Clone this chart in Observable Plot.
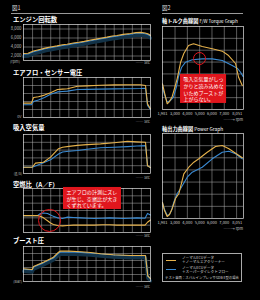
<!DOCTYPE html>
<html><head><meta charset="utf-8">
<script src="https://cdn.jsdelivr.net/npm/d3@7"></script>
<script src="https://cdn.jsdelivr.net/npm/@observablehq/plot@0.6"></script>
<style>
html,body{margin:0;padding:0;background:#000;}
#root{position:relative;width:260px;height:300px;background:#000;overflow:hidden;font-family:"Noto Sans CJK JP","Noto Sans",sans-serif;color:#fff;}
.t{position:absolute;white-space:nowrap;line-height:1;}
.b{font-weight:700;}
</style></head><body><div id="root"></div>
<script>
// ---- Data ----
// Engine rpm (time in arbitrary units)
const rpmT      = [0, 5, 11, 18, 25, 30, 37, 43, 48, 55, 61, 67, 74, 80, 85, 92, 98, 103, 110, 118, 124, 129, 134, 137, 140];
const rpmBlue   = [2400, 2450, 2950, 3300, 3650, 3850, 4100, 4350, 4450, 4750, 4900, 5100, 5400, 5600, 5800, 6050, 6300, 6400, 6650, 6850, 7050, 7100, 6950, 6800, 6450];
const rpmOrange = [2550, 2600, 3100, 3450, 3800, 4000, 4250, 4500, 4600, 4900, 5050, 5250, 5550, 5750, 5950, 6200, 6450, 6550, 6800, 7000, 7200, 7250, 7100, 6950, 6600];
const rpmTicks  = [2000, 4000, 6000, 8000];
// Air flow sensor voltage
const volT      = [0, 8.8, 11, 16.5, 23.2, 29.8, 37.5, 43, 48.5, 59.5, 70, 84.9, 100, 114.6, 129, 134.5, 136.7, 140];
const volOrange = [1.8, 1.8, 2.5, 2.6, 2.8, 3.1, 3.5, 3.55, 3.6, 3.9, 3.95, 4.04, 4.08, 4.1, 4.1, 4.0, 1.7, 1.1];
const volBlue   = [1.6, 1.6, 2.0, 2.2, 2.5, 2.9, 3.2, 3.25, 3.3, 3.5, 3.52, 3.55, 3.58, 3.6, 3.62, 3.65, 1.5, 1.0];
// Intake air amount (g/s)
const airT      = [0, 9.6, 13.2, 22, 29.8, 38.6, 43, 50, 59.5, 70, 84.9, 100, 114.6, 125, 134.5, 136.7, 140];
const airOrange = [32, 32, 53, 58, 84, 127, 135, 139, 144, 148, 152, 158, 165, 162, 160, 40, 30];
const airBlue   = [32, 32, 38, 55, 70, 100, 110, 114, 118, 124, 132, 135, 138, 141, 143, 40, 30];
// Air/fuel ratio
const afT      = [0, 15.4, 18.7, 22, 26.5, 29.8, 33, 37.5, 43, 48.5, 55, 63, 70, 78, 87, 95, 103, 110, 118, 125, 134, 136.7, 140];
const afBlue   = [12.3, 12.3, 12.6, 12.65, 12.6, 12.4, 12.2, 12.0, 11.9, 12.1, 12.05, 12.0, 11.95, 11.9, 11.95, 12.0, 11.95, 11.9, 11.95, 12.0, 11.95, 12.6, 12.4];
const afOrange = [12.3, 12.3, 12.2, 12.0, 11.6, 11.3, 11.1, 10.95, 10.9, 10.95, 11.0, 11.0, 11.0, 11.0, 11.05, 11.05, 11.0, 11.0, 11.0, 11.0, 11.0, 11.4, 11.7];
// Boost pressure (bar)
const bstT      = [0, 9.6, 11, 22, 33, 38.6, 40.8, 50, 63, 74, 85, 99, 118, 134.5, 137, 140];
const bstOrange = [-0.09, -0.14, 0.07, 0.38, 0.74, 1.09, 1.18, 1.17, 1.12, 1.07, 0.98, 0.91, 0.86, 0.86, -0.6, -0.79];
const bstBlue   = [-0.12, -0.17, 0.03, 0.33, 0.68, 1.02, 1.10, 1.11, 1.08, 1.04, 0.96, 0.89, 0.84, 0.84, -0.62, -0.80];
// F/W torque vs rpm
const tqRpmO = [1981, 2144, 2363, 2550, 2770, 2957, 3176, 3444, 3713, 4095, 4501, 5209, 6022, 6835, 7347, 7916, 8160, 8461];
const tqO    = [21.7, 14.3, 4.8, 6.7, 11, 17.7, 26.1, 39.6, 47.2, 54, 55.4, 53.1, 51.2, 49.2, 45.5, 38.8, 27.2, 20.2];
const tqRpmB = [1981, 2144, 2363, 2631, 2875, 3119, 3282, 3525, 3851, 4396, 5209, 6022, 6835, 7648, 8079, 8323, 8526];
const tqB    = [18.8, 12.6, 6.2, 7.6, 10.4, 19.4, 27.8, 35.4, 39.9, 41.9, 42.7, 42.7, 41.3, 37.1, 34.6, 31.4, 27.8];
// Power vs rpm
const pwRpmO = [1981, 2144, 2363, 2550, 2770, 3038, 3306, 3713, 4119, 4526, 4932, 5615, 6290, 6835, 7371, 7916, 8461];
const pwO    = [65.9, 32.9, 8.2, 16.5, 41.2, 82.4, 101.7, 184, 211.2, 231.8, 245.8, 273, 296.5, 300.6, 287, 268.9, 250];
const pwRpmB = [1981, 2144, 2363, 2550, 2713, 2900, 3176, 3444, 3989, 4396, 5209, 6022, 6835, 7371, 7916, 8461];
const pwB    = [61.8, 37, 12.4, 16.5, 32.9, 67.1, 103, 122.3, 170, 190.6, 211.2, 245.8, 273, 277.1, 266.4, 245.8];
const rpmAxisTicks = [1981, 3000, 4000, 5000, 6000, 7000, 8051];

// ---- Styling ----
const C_OR = "#e6b24c", C_BL = "#3a8ad2", RED = "#e0161d", SHADOW = "#123247";
const GRID = "#b4b4b4";
const FONT = '"Noto Sans CJK JP","Noto Sans",sans-serif';
const root = document.getElementById("root");
const rows = (xs, ys) => xs.map((x, i) => ({x, y: ys[i]}));

function text(txt, x, y, size, opts = {}) {
  const d = document.createElement("div");
  d.className = "t" + (opts.bold ? " b" : "");
  d.textContent = txt;
  d.style.fontSize = size + "px";
  d.style.top = y + "px";
  if (opts.right != null) d.style.right = (260 - opts.right) + "px"; else d.style.left = x + "px";
  d.style.color = opts.color || "#fff";
  root.appendChild(d);
  return d;
}
function hline(x1, x2, y, color = "#9a9a9a") {
  const d = document.createElement("div");
  Object.assign(d.style, {position: "absolute", left: x1 + "px", top: y + "px", width: (x2 - x1) + "px", height: "0.6px", background: color});
  root.appendChild(d);
}

function panel(p) {
  const mL = p.mL ?? 6, mR = p.mR ?? 6, mT = p.mT ?? 6, mB = p.mB ?? 6;
  const chart = Plot.plot({
    width: p.fw + mL + mR, height: p.fh + mT + mB,
    marginLeft: mL, marginRight: mR, marginTop: mT, marginBottom: mB,
    style: {background: "transparent", color: "#ddd", fontFamily: FONT, overflow: "visible"},
    x: {domain: p.xd, axis: null},
    y: {domain: p.yd, axis: null},
    marks: [
      Plot.gridX({ticks: p.gx, stroke: GRID, strokeOpacity: 1, strokeWidth: 0.5}),
      Plot.gridY({ticks: p.gy, stroke: GRID, strokeOpacity: 1, strokeWidth: 0.5}),
      ...(p.marks || []),
      Plot.frame({stroke: "#e4e4e4", strokeWidth: 0.7}),
      ...(p.over || [])
    ]
  });
  chart.style.position = "absolute";
  chart.style.left = (p.fx - mL) + "px";
  chart.style.top = (p.fy - mT) + "px";
  root.appendChild(chart);
}

function seriesMarks(oRows, bRows, shadow) {
  const m = [];
  if (shadow) m.push(Plot.line(bRows, {x: "x", y: "y", stroke: SHADOW, strokeWidth: 3.2, dy: 2.2}));
  m.push(Plot.line(bRows, {x: "x", y: "y", stroke: C_BL, strokeWidth: 1.1}));
  m.push(Plot.line(oRows, {x: "x", y: "y", stroke: C_OR, strokeWidth: 1.1}));
  return m;
}

const tGrid = d3.range(10, 140, 10);
const LX = 23, LW = 127;

// Header texts
text("図1", 12, 6, 5.5, {color: "#ddd"});
hline(11, 150, 12.8);
text("図2", 162, 6, 5.5, {color: "#ddd"});
hline(162, 243, 12.8);

// Panel 1: engine rpm
text("エンジン回転数", 13, 16.5, 6.3, {bold: true});
panel({fx: LX, fy: 24, fw: LW, fh: 36, mL: 23, xd: [0, 140], yd: [1000, 9000], gx: tGrid, gy: rpmTicks,
  marks: [
    Plot.axisY({ticks: rpmTicks, tickFormat: d3.format(","), tickSize: 0, tickPadding: 2, fontSize: 4.3, fill: "#bbb", label: null}),
    ...seriesMarks(rows(rpmT, rpmOrange), rows(rpmT, rpmBlue), true)
  ]});
text("(rpm)", 10, 60, 3.8, {color: "#bbb"});
text("── sec", 0, 60.5, 3.8, {right: 150, color: "#bbb"});

// Panel 2: air flow sensor voltage
text("エアフロ・センサー電圧", 13, 69.5, 6.3, {bold: true});
panel({fx: LX, fy: 77, fw: LW, fh: 40, xd: [0, 140], yd: [0, 5], gx: tGrid, gy: [1, 2, 3, 4],
  marks: seriesMarks(rows(volT, volOrange), rows(volT, volBlue), false)});
text("0V", 0, 115.3, 3.8, {right: 21.5, color: "#bbb"});
text("── sec", 0, 119.5, 3.8, {right: 150, color: "#bbb"});

// Panel 3: intake air
text("吸入空気量", 13, 125, 6.3, {bold: true});
panel({fx: LX, fy: 134, fw: LW, fh: 39, xd: [0, 140], yd: [0, 200], gx: tGrid, gy: [40, 80, 120, 160],
  marks: seriesMarks(rows(airT, airOrange), rows(airT, airBlue), false)});
text("(g/s)", 0, 171.5, 3.8, {right: 22, color: "#bbb"});
text("── sec", 0, 176, 3.8, {right: 150, color: "#bbb"});

// Panel 4: A/F
text("空燃比（A／F）", 13, 182, 6.3, {bold: true});
panel({fx: LX, fy: 188, fw: LW, fh: 44, xd: [0, 140], yd: [10, 16], gx: tGrid, gy: [11, 12, 13, 14, 15],
  marks: seriesMarks(rows(afT, afOrange), rows(afT, afBlue), false),
  over: [
    Plot.dot([{x: 28.7, y: 11.64}], {x: "x", y: "y", r: 11, stroke: RED, strokeWidth: 1, fill: "none"}),
    Plot.rect([{x1: 44.1, x2: 108, y1: 13.14, y2: 16.14}], {x1: "x1", x2: "x2", y1: "y1", y2: "y2", fill: RED}),
    Plot.text(["エアフロの計測にズレ\nが生じ、空燃比が大き\nくずれています。"], {x: 47.4, y: 15.9, text: d => d, textAnchor: "start", lineAnchor: "top", fontSize: 5.1, lineHeight: 1.3, fill: "#fff"})
  ]});
text("── sec", 0, 233.5, 3.8, {right: 150, color: "#bbb"});

// Panel 5: boost
text("ブースト圧", 13, 237.5, 6.3, {bold: true});
panel({fx: LX, fy: 246, fw: LW, fh: 35, xd: [0, 140], yd: [-1, 1.5], gx: tGrid, gy: [-0.5, 0, 0.5, 1],
  marks: seriesMarks(rows(bstT, bstOrange), rows(bstT, bstBlue), true)});
text("(Bar)", 0, 280, 3.8, {right: 22, color: "#bbb"});
text("── sec", 0, 284.5, 3.8, {right: 150, color: "#bbb"});

// Panel 6: torque
const tt = text("軸トルク曲線図 ", 162, 18.3, 5.2, {bold: true});
const tte = document.createElement("span"); tte.textContent = "F/W Torque Graph"; tte.style.fontWeight = "400"; tte.style.fontSize = "4.6px"; tt.appendChild(tte);
panel({fx: 162, fy: 26, fw: 81, fh: 83, mB: 10, xd: [1981, 8560], yd: [0, 70],
  gx: [3000, 4000, 5000, 6000, 7000, 8000], gy: [10, 20, 30, 40, 50, 60],
  marks: [
    Plot.axisX({ticks: rpmAxisTicks, tickFormat: d3.format(","), tickSize: 0, tickPadding: 2.5, fontSize: 4, fill: "#ccc", label: null}),
    ...seriesMarks(rows(tqRpmO, tqO), rows(tqRpmB, tqB), false)
  ],
  over: [
    Plot.dot([{x: 4990, y: 43}], {x: "x", y: "y", r: 6, stroke: RED, strokeWidth: 1, fill: "none"}),
    Plot.ruleX([4990], {y1: 37.9, y2: 29.5, stroke: RED, strokeWidth: 1}),
    Plot.rect([{x1: 3444, x2: 7184, y1: 5.1, y2: 29.5}], {x1: "x1", x2: "x2", y1: "y1", y2: "y2", fill: RED}),
    Plot.text(["吸入空気量がしっ\nかりと読み込めな\nいためブーストが\n上がらない。"], {x: 3690, y: 27.8, text: d => d, textAnchor: "start", lineAnchor: "top", fontSize: 5, lineHeight: 1.33, fill: "#fff"})
  ]});
text("──→ rpm", 0, 117.5, 3.8, {right: 243, color: "#ccc"});

// Panel 7: power
const pt = text("軸出力曲線図 ", 162, 126.3, 5.2, {bold: true});
const pte = document.createElement("span"); pte.textContent = "Power Graph"; pte.style.fontWeight = "400"; pte.style.fontSize = "4.8px"; pt.appendChild(pte);
panel({fx: 162, fy: 133, fw: 81, fh: 85, mB: 10, xd: [1981, 8560], yd: [0, 350],
  gx: [3000, 4000, 5000, 6000, 7000, 8000], gy: [50, 100, 150, 200, 250, 300],
  marks: [
    Plot.axisX({ticks: rpmAxisTicks, tickFormat: d3.format(","), tickSize: 0, tickPadding: 2.5, fontSize: 4, fill: "#ccc", label: null}),
    ...seriesMarks(rows(pwRpmO, pwO), rows(pwRpmB, pwB), false)
  ]});
text("──→ rpm", 0, 226.5, 3.8, {right: 243, color: "#ccc"});

// Legend
const lg = document.createElement("div");
Object.assign(lg.style, {position: "absolute", left: "162px", top: "253px", width: "80px", height: "29px", border: "0.6px solid #aaa", boxSizing: "border-box"});
root.appendChild(lg);
const legendItems = [
  {color: C_OR, l1: "ノーマルECUデータ", l2: "＋ノーマルエアクリーナー", y: 256},
  {color: C_BL, l1: "ノーマルECUデータ", l2: "＋スーパーダイレクトフロー", y: 265.5}
];
legendItems.forEach(it => {
  const s = document.createElement("div");
  Object.assign(s.style, {position: "absolute", left: "166px", top: (it.y + 3.5) + "px", width: "10px", height: "1.2px", background: it.color});
  root.appendChild(s);
  text(it.l1, 182, it.y, 3.6, {color: "#ddd"});
  text(it.l2, 182, it.y + 4.3, 3.6, {color: "#ddd"});
});
text("テスト車両：スバルインプレッサGDB E型の場合", 165, 276, 3.4, {color: "#ddd"});
</script>
</body></html>
